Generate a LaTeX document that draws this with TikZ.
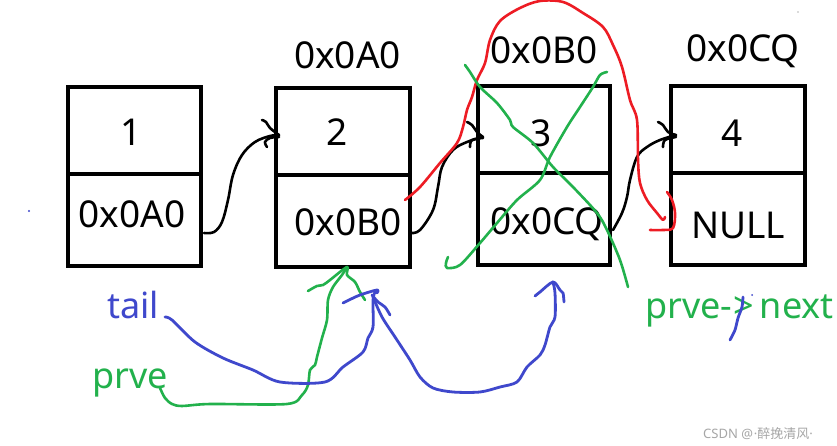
\documentclass[tikz,border=0pt]{standalone}
\usepackage{fontspec}
\setmainfont{Noto Sans}
\newfontfamily\cjkfont{Noto Sans CJK SC}
\definecolor{pred}{RGB}{237,28,36}
\definecolor{pgreen}{RGB}{34,177,76}
\definecolor{pblue}{RGB}{63,72,204}
\begin{document}
\begin{tikzpicture}[x=1pt,y=-1pt,
  cell/.style={draw,line width=4.6pt,inner sep=0pt,outer sep=0pt},
  big/.style={font=\fontsize{37}{40}\selectfont,inner sep=0pt,anchor=base},
  lbl/.style={font=\fontsize{36}{40}\selectfont,inner sep=0pt,anchor=base west},
  blk/.style={draw=black,line width=2.6pt,line cap=round,line join=round},
  redpen/.style={draw=pred,line width=2.6pt,line cap=round,line join=round},
  grnpen/.style={draw=pgreen,line width=2.6pt,line cap=round,line join=round},
  blupen/.style={draw=pblue,line width=2.8pt,line cap=round,line join=round}]
\clip (0,0) rectangle (837,446);
\fill[white] (0,0) rectangle (837,446);

% cells
\node[cell,minimum width=133pt,minimum height=87pt] (c1a) at (134.5,130.5) {};
\node[cell,minimum width=133pt,minimum height=92pt] (c1b) at (134.5,220) {};
\node[cell,minimum width=134pt,minimum height=87pt] (c2a) at (343,131.5) {};
\node[cell,minimum width=134pt,minimum height=92pt] (c2b) at (343,221) {};
\node[cell,minimum width=132pt,minimum height=87pt] (c3a) at (544,129.5) {};
\node[cell,minimum width=132pt,minimum height=92pt] (c3b) at (544,219) {};
\node[cell,minimum width=134pt,minimum height=87pt] (c4a) at (738,129.5) {};
\node[cell,minimum width=134pt,minimum height=92pt] (c4b) at (738,219) {};

% texts in cells
\node[big] (t1) at (131,146) {1};
\node[big] (v1) at (132,228) {0x0A0};
\node[big] (t2) at (337,146) {2};
\node[big] (v2) at (348,236) {0x0B0};
\node[big] (t3) at (541,147) {3};
\node[big] (v3) at (547,235) {0x0CQ};
\node[big] (t4) at (732,147) {4};
\node[big] (v4) at (738,238) {NULL};

% addresses on top
\node[big] (a2) at (347.5,69) {0x0A0};
\node[big] (a3) at (544,64) {0x0B0};
\node[big] (a4) at (743,62) {0x0CQ};

% black connectors
\draw[blk] plot[smooth,tension=0.6] coordinates {(204,233) (214,232) (222,222) (228,200) (233,175) (242,155) (255,142) (270,136) (279,135)};
\draw[blk] plot[smooth,tension=0.6] coordinates {(262,120) (266,122) (270,128) (279,135)};
\draw[blk] plot[smooth,tension=0.6] coordinates {(279,137) (270,138) (265,142) (267,147)};

\draw[blk] plot[smooth,tension=0.6] coordinates {(411,233) (420,230) (433,210) (438,187) (442,167) (453,150) (467,142) (483,137)};
\draw[blk] plot[smooth,tension=0.6] coordinates {(467,122) (472,125) (477,132) (483,137)};
\draw[blk] plot[smooth,tension=0.6] coordinates {(483,138) (472,140) (470,147)};

\draw[blk] plot[smooth,tension=0.6] coordinates {(613,230) (622,213) (627,197) (630,180) (637,157) (647,147) (660,140) (676,135)};
\draw[blk] plot[smooth,tension=0.6] coordinates {(658,122) (663,125) (668,132) (676,135)};
\draw[blk] plot[smooth,tension=0.6] coordinates {(676,137) (665,140) (663,147)};

% red arc
\draw[redpen] plot[smooth,tension=0.55] coordinates {(405,200) (420,187) (440,163) (457,143) (463,127) (467,110) (472,97) (477,80) (485,63) (490,40) (500,21) (520,8) (540,1) (563,2) (583,13) (603,27) (613,45) (622,67) (630,100) (637,120) (638,160) (640,183) (647,200) (657,213) (663,220) (665,217)};
\draw[redpen] plot[smooth,tension=0.55] coordinates {(667,192) (672,200) (675,213) (673,228) (663,230) (650,230)};

% green cross
\draw[grnpen] plot[smooth,tension=0.5] coordinates {(465,65) (470,72) (480,87) (497,103) (510,120) (513,127) (533,143) (553,167) (573,187) (597,213) (607,230) (620,260) (628,287)};
\draw[grnpen] plot[smooth,tension=0.5] coordinates {(607,72) (600,75) (593,87) (580,107) (567,127) (550,157) (540,180) (517,200) (497,223) (480,243) (460,265) (447,268) (446,263) (448,257)};

% green prve pointer
\draw[grnpen] plot[smooth,tension=0.5] coordinates {(160,388) (165,398) (172,404) (182,406) (210,404) (287,404) (302,395) (308,385) (310,370) (315,365) (317,357) (322,338) (327,320) (328,300) (333,287) (342,275) (347,267)};
\draw[grnpen] plot[smooth,tension=0.5] coordinates {(308,291) (317,286) (323,285) (330,280) (347,267) (347,275) (355,282) (360,292) (365,300)};

% blue tail pointer
\draw[blupen] plot[smooth,tension=0.5] coordinates {(165,317) (172,320) (195,342) (223,358) (253,370) (280,382) (325,382) (343,367) (363,352) (368,338) (373,327) (373,300) (375,292)};
\draw[blupen] plot[smooth,tension=0.5] coordinates {(343,303) (347,301) (360,295) (377,290) (377,293)};
\draw[blupen] plot[smooth,tension=0.5] coordinates {(372,295) (378,302) (385,307) (390,315)};
\draw[blupen] plot[smooth,tension=0.5] coordinates {(373,297) (382,317) (395,337) (410,360) (420,377) (433,388) (453,392) (480,392) (500,387) (517,382) (527,367) (540,355) (545,345) (550,327) (555,317) (555,293) (553,282)};
\draw[blupen] plot[smooth,tension=0.5] coordinates {(535,296) (540,292) (553,282) (560,290) (563,293) (564,302)};

% labels
\node[lbl,text=pblue] (tail) at (107,318) {tail};
\node[lbl,text=pgreen] (prve) at (92,388) {prve};
\node[lbl,text=pgreen] (pn) at (645,318) {prve-\kern1pt{}>\kern6pt next};

% blue stroke over the arrow of prve->next
\draw[blupen] plot[smooth,tension=0.4] coordinates {(743,297) (742,307) (738,318) (735,330) (730,340)};
\fill[pblue] (752,295) circle (1pt);
\fill[pblue] (29,211) circle (1.2pt);
\fill[black!60] (798,12) circle (0.7pt);

% watermark
\node[font=\fontsize{13}{15}\selectfont,text=black!35,inner sep=0pt,anchor=base west] (wm) at (703,438) {CSDN @\kern1pt·{\cjkfont 醉挽清风}·};
\end{tikzpicture}
\end{document}
